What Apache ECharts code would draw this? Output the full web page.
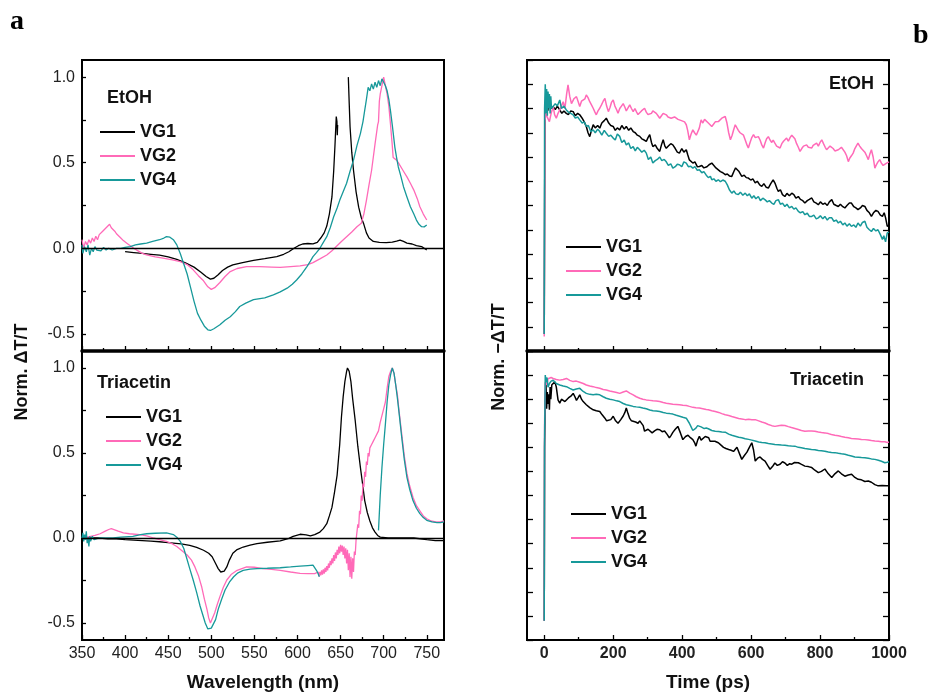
<!DOCTYPE html>
<html>
<head>
<meta charset="utf-8">
<script src="https://cdn.jsdelivr.net/npm/echarts@6.0.0/dist/echarts.min.js"></script>
<style>
html,body{margin:0;padding:0;background:#fff;}
#chart{width:932px;height:695px;}
</style>
</head>
<body>
<div id="chart"></div>
<script>
// ---------- DATA ----------
const seriesNames = ['VG1', 'VG2', 'VG4'];
const solventLabels = ['EtOH', 'Triacetin'];
const wavelengthLabels = [350, 400, 450, 500, 550, 600, 650, 700, 750];
const normLabels = [-0.5, 0.0, 0.5, 1.0];
const timeLabels = [0, 200, 400, 600, 800, 1000];

// Panel a, EtOH (wavelength nm, norm dT/T)
const etohSpecVG1 = [[400,-0.02],[410,-0.025],[420,-0.03],[430,-0.035],[440,-0.04],[450,-0.05],[460,-0.065],[470,-0.085],[480,-0.11],[488,-0.14],[494,-0.165],[499,-0.18],[503,-0.175],[508,-0.155],[513,-0.13],[519,-0.11],[525,-0.097],[535,-0.085],[549,-0.07],[562,-0.06],[576,-0.049],[584,-0.035],[590,-0.02],[596,0.0],[601,0.015],[606,0.025],[612,0.028],[618,0.026],[623,0.035],[627,0.06],[631,0.09],[634,0.13],[637,0.2],[640,0.3],[642,0.45],[643.5,0.6],[645,0.77],[645.8,0.74],[646.2,0.66],[646.6,0.72],[652,null],[659,1.0],[660,0.85],[661,0.71],[663,0.56],[665,0.456],[668,0.33],[671,0.24],[674,0.18],[677,0.14],[680,0.09],[683,0.06],[688,0.04],[695,0.035],[703,0.033],[710,0.036],[715,0.042],[719,0.048],[723,0.04],[727,0.03],[733,0.025],[738,0.015],[744,0.01],[747,0.0],[750,-0.01]];
const etohSpecVG2 = [[350,0.05],[352,0.0],[354,0.04],[356,0.02],[358,0.05],[360,0.03],[362,0.06],[364,0.04],[366,0.07],[368,0.05],[370,0.08],[372,0.07],[374,0.1],[376,0.09],[378,0.12],[380,0.11],[382,0.14],[384,0.12],[386,0.11],[388,0.1],[390,0.085],[392,0.075],[395,0.06],[398,0.045],[402,0.03],[406,0.015],[410,0.0],[415,-0.015],[420,-0.03],[425,-0.039],[435,-0.05],[444,-0.058],[455,-0.068],[464,-0.078],[472,-0.095],[479,-0.126],[485,-0.16],[491,-0.19],[496,-0.225],[500,-0.24],[504,-0.23],[510,-0.2],[516,-0.165],[522,-0.136],[530,-0.118],[541,-0.107],[556,-0.107],[570,-0.11],[580,-0.112],[592,-0.107],[603,-0.103],[612,-0.095],[618,-0.084],[626,-0.062],[634,-0.039],[640,-0.015],[645,0.01],[651,0.04],[657,0.068],[663,0.095],[669,0.126],[674,0.146],[677,0.2],[680,0.28],[683,0.37],[686,0.456],[690,0.61],[693,0.72],[694,0.74],[695,0.86],[696,0.9],[698,0.95],[700,1.0],[702,0.95],[704,0.9],[706,0.83],[708,0.72],[710,0.6],[711,0.53],[713,0.54],[715,0.515],[717,0.5],[719,0.495],[723,0.45],[727,0.417],[731,0.38],[735,0.34],[739,0.29],[742,0.243],[746,0.2],[750,0.165]];
const etohSpecVG4 = [[350,0.02],[351,-0.03],[353,0.01],[355,-0.02],[357,0.02],[359,-0.04],[361,0.0],[363,-0.02],[365,0.01],[367,-0.01],[369,0.0],[372,-0.015],[375,0.005],[378,-0.01],[381,0.0],[385,-0.01],[390,0.0],[395,0.0],[400,0.005],[406,0.01],[412,0.02],[418,0.025],[425,0.03],[432,0.04],[440,0.05],[445,0.06],[448,0.068],[452,0.065],[456,0.05],[460,0.02],[464,-0.03],[468,-0.09],[472,-0.15],[476,-0.23],[480,-0.31],[484,-0.38],[488,-0.42],[492,-0.455],[496,-0.476],[499,-0.48],[503,-0.47],[510,-0.447],[516,-0.42],[522,-0.4],[528,-0.37],[533,-0.34],[540,-0.32],[549,-0.3],[562,-0.29],[572,-0.272],[580,-0.255],[588,-0.233],[594,-0.21],[599,-0.185],[605,-0.15],[611,-0.107],[615,-0.075],[618,-0.049],[622,-0.025],[626,0.0],[630,0.035],[634,0.068],[638,0.12],[642,0.184],[646,0.235],[649,0.28],[653,0.33],[657,0.38],[661,0.45],[665,0.515],[669,0.6],[673,0.67],[676,0.74],[678,0.806],[680,0.87],[682,0.94],[684,0.92],[686,0.96],[688,0.93],[690,0.97],[692,0.94],[694,0.98],[696,0.95],[698,0.99],[700,0.97],[702,0.95],[704,0.92],[706,0.87],[708,0.8],[710,0.72],[713,0.59],[715,0.53],[717,0.475],[720,0.42],[723,0.36],[727,0.3],[731,0.243],[735,0.2],[738,0.165],[741,0.14],[744,0.126],[747,0.125],[750,0.136]];

// Panel a, Triacetin
const triSpecVG1 = [[350,0.0],[360,0.0],[370,0.0],[380,-0.005],[390,-0.005],[400,-0.01],[410,-0.012],[420,-0.015],[430,-0.018],[440,-0.022],[450,-0.027],[456,-0.03],[465,-0.035],[475,-0.043],[483,-0.055],[491,-0.072],[497,-0.09],[501,-0.11],[505,-0.15],[508,-0.18],[511,-0.2],[513,-0.205],[515,-0.195],[518,-0.17],[521,-0.13],[525,-0.09],[530,-0.068],[537,-0.053],[545,-0.042],[553,-0.033],[565,-0.025],[580,-0.017],[590,-0.002],[595,0.01],[603,0.022],[610,0.018],[615,0.012],[620,0.02],[626,0.035],[630,0.055],[634,0.084],[637,0.13],[640,0.18],[643,0.27],[646,0.37],[649,0.55],[651,0.71],[653,0.83],[655,0.92],[657,0.98],[658,1.0],[660,0.98],[662,0.92],[664,0.82],[667,0.69],[670,0.54],[673,0.415],[676,0.3],[678,0.22],[681,0.15],[684,0.1],[687,0.06],[690,0.035],[693,0.015],[696,0.005],[705,0.0],[720,0.0],[735,0.0],[750,-0.01],[760,-0.015],[770,-0.015]];
const triSpecVG2 = [[350,0.0],[355,0.005],[360,0.01],[365,0.015],[371,0.025],[377,0.04],[381,0.05],[384,0.055],[388,0.048],[392,0.04],[398,0.03],[405,0.025],[417,0.02],[425,0.012],[433,0.0],[440,-0.01],[448,-0.02],[455,-0.035],[460,-0.05],[466,-0.075],[472,-0.1],[477,-0.13],[481,-0.17],[485,-0.22],[489,-0.29],[492,-0.36],[495,-0.42],[497,-0.47],[499,-0.5],[501,-0.49],[504,-0.44],[507,-0.39],[510,-0.345],[514,-0.29],[518,-0.247],[523,-0.215],[530,-0.19],[541,-0.17],[550,-0.172],[560,-0.18],[570,-0.185],[580,-0.19],[592,-0.2],[603,-0.208],[612,-0.21],[620,-0.21],[624,-0.2],[625,-0.225],[626,-0.2],[627,-0.22],[628,-0.19],[629,-0.215],[630,-0.185],[631,-0.21],[632,-0.175],[633,-0.2],[634,-0.165],[635,-0.19],[636,-0.15],[637,-0.175],[638,-0.135],[639,-0.16],[640,-0.12],[641,-0.15],[642,-0.1],[643,-0.135],[644,-0.085],[645,-0.12],[646,-0.07],[647,-0.1],[648,-0.05],[649,-0.09],[650,-0.04],[651,-0.08],[652,-0.045],[653,-0.1],[654,-0.05],[655,-0.12],[656,-0.06],[657,-0.15],[658,-0.07],[659,-0.19],[660,-0.09],[661,-0.23],[662,-0.11],[663,-0.24],[664,-0.12],[665,-0.2],[666,-0.08],[667,-0.1],[668,-0.01],[669,0.0],[670,0.08],[671,0.06],[672,0.16],[673,0.14],[674,0.25],[675,0.22],[676,0.32],[677,0.3],[678,0.39],[679,0.36],[680,0.45],[681,0.43],[682,0.5],[683,0.48],[684,0.53],[686,0.55],[688,0.57],[690,0.59],[692,0.6],[694,0.63],[696,0.68],[698,0.72],[700,0.76],[702,0.8],[704,0.88],[706,0.95],[708,0.98],[710,1.0],[712,0.97],[714,0.9],[716,0.84],[718,0.74],[721,0.61],[724,0.48],[727,0.38],[730,0.31],[734,0.24],[738,0.19],[742,0.16],[746,0.13],[750,0.113],[755,0.1],[762,0.094],[766,0.095],[770,0.1]];
const triSpecVG4 = [[350,0.0],[351,0.03],[352,-0.02],[353,0.02],[354,-0.01],[355,0.04],[356,-0.03],[357,0.0],[358,-0.05],[359,0.01],[360,-0.02],[362,0.01],[364,-0.01],[366,0.0],[370,0.0],[378,0.0],[386,0.0],[395,0.005],[409,0.01],[418,0.02],[425,0.025],[435,0.028],[448,0.03],[456,0.02],[460,0.005],[464,-0.02],[468,-0.06],[471,-0.11],[475,-0.18],[479,-0.247],[483,-0.32],[487,-0.4],[490,-0.45],[493,-0.5],[496,-0.535],[498,-0.54],[500,-0.53],[502,-0.52],[505,-0.48],[508,-0.42],[512,-0.36],[516,-0.306],[521,-0.26],[526,-0.228],[531,-0.205],[537,-0.19],[545,-0.183],[553,-0.18],[565,-0.178],[580,-0.175],[592,-0.17],[603,-0.165],[612,-0.162],[618,-0.16],[620,-0.17],[622,-0.19],[624,-0.21],[625.4,-0.228],[640,null],[694,0.045],[696,0.25],[698,0.415],[700,0.55],[702,0.67],[704,0.8],[706,0.9],[708,0.96],[710,1.0],[712,0.97],[714,0.9],[716,0.82],[718,0.73],[721,0.59],[724,0.46],[727,0.357],[730,0.29],[734,0.22],[738,0.175],[742,0.143],[746,0.12],[750,0.104],[756,0.095],[762,0.09],[766,0.09],[770,0.095]];

// Panel b, EtOH (time ps, norm -dT/T)
const etohKinVG1 = [[0,-0.03],[2,0.88],[6,0.91],[10,0.89],[15,0.92],[20,0.9],[26,0.908],[32,0.895],[38,0.91],[45,0.894],[51,0.88],[57,0.89],[64,0.88],[70,0.875],[77,0.89],[84,0.887],[90,0.87],[97,0.88],[103,0.874],[110,0.86],[116,0.845],[122,0.826],[127,0.8],[132,0.784],[137,0.81],[142,0.833],[148,0.82],[155,0.83],[161,0.819],[167,0.84],[174,0.85],[180,0.86],[187,0.84],[193,0.83],[200,0.826],[206,0.81],[212,0.82],[219,0.812],[225,0.83],[232,0.815],[238,0.826],[245,0.81],[251,0.82],[258,0.805],[264,0.8],[270,0.79],[277,0.785],[283,0.775],[290,0.77],[296,0.764],[301,0.78],[306,0.792],[311,0.76],[315,0.743],[322,0.75],[328,0.735],[335,0.723],[340,0.75],[345,0.771],[350,0.745],[354,0.736],[360,0.745],[367,0.755],[373,0.75],[380,0.735],[386,0.72],[392,0.716],[399,0.735],[405,0.72],[412,0.73],[416,0.71],[421,0.688],[426,0.695],[431,0.675],[437,0.68],[444,0.66],[450,0.661],[457,0.665],[463,0.655],[467,0.654],[472,0.66],[478,0.668],[486,0.675],[492,0.665],[498,0.655],[505,0.647],[511,0.64],[518,0.635],[525,0.627],[531,0.63],[537,0.622],[544,0.62],[550,0.64],[555,0.655],[559,0.661],[565,0.64],[573,0.62],[580,0.625],[586,0.615],[592,0.613],[599,0.605],[605,0.61],[612,0.593],[618,0.6],[625,0.585],[631,0.579],[637,0.59],[644,0.575],[650,0.572],[657,0.59],[664,0.606],[670,0.59],[675,0.57],[679,0.558],[685,0.565],[691,0.545],[698,0.537],[704,0.55],[711,0.54],[718,0.551],[724,0.545],[730,0.53],[737,0.537],[743,0.525],[750,0.52],[756,0.51],[763,0.52],[769,0.525],[776,0.531],[782,0.515],[789,0.51],[795,0.503],[801,0.515],[808,0.505],[814,0.51],[821,0.5],[827,0.515],[834,0.524],[840,0.505],[847,0.5],[853,0.496],[859,0.505],[866,0.495],[872,0.49],[878,0.5],[885,0.51],[891,0.51],[898,0.495],[904,0.49],[910,0.483],[917,0.49],[923,0.5],[930,0.496],[936,0.48],[943,0.47],[949,0.455],[955,0.47],[962,0.48],[968,0.476],[975,0.46],[981,0.455],[986,0.47],[990,0.45],[995,0.414],[1000,0.42]];
const etohKinVG2 = [[0,-0.04],[2,0.85],[5,0.88],[10,0.86],[15,0.846],[20,0.88],[26,0.908],[30,0.875],[35,0.86],[40,0.88],[45,0.894],[50,0.91],[55,0.928],[60,0.9],[65,0.96],[69,0.997],[74,0.95],[79,0.92],[86,0.94],[93.5,0.949],[98,0.93],[103,0.908],[108,0.93],[113,0.925],[118,0.94],[122,0.956],[127,0.945],[132,0.928],[137,0.915],[142,0.901],[147,0.885],[151,0.874],[156,0.89],[161,0.901],[166,0.915],[171,0.93],[176,0.942],[181,0.91],[186,0.887],[191,0.905],[195,0.925],[200,0.935],[205,0.91],[210,0.895],[214,0.88],[219,0.9],[224,0.91],[229,0.92],[234,0.905],[238,0.89],[243,0.894],[248,0.915],[253,0.9],[258,0.887],[263,0.9],[268,0.885],[272,0.875],[277,0.874],[282,0.89],[286,0.895],[291,0.901],[296,0.885],[301,0.875],[306,0.867],[311,0.88],[315,0.89],[320,0.894],[325,0.88],[330,0.87],[335,0.86],[340,0.87],[345,0.88],[350,0.875],[354,0.874],[359,0.865],[364,0.87],[368,0.86],[373,0.853],[378,0.865],[383,0.87],[388,0.855],[392.5,0.86],[398,0.85],[403,0.855],[407,0.845],[412,0.833],[416,0.81],[421,0.771],[426,0.795],[431,0.812],[436,0.8],[441,0.79],[445,0.798],[450,0.82],[455,0.853],[460,0.84],[465,0.855],[470,0.853],[476,0.84],[481,0.835],[486,0.826],[491,0.835],[496,0.845],[501,0.838],[505,0.846],[510,0.85],[515,0.86],[520,0.855],[525,0.867],[530,0.84],[535,0.8],[540,0.771],[545,0.79],[549,0.81],[554,0.833],[559,0.82],[563,0.81],[568,0.8],[573,0.805],[578,0.79],[583,0.77],[588,0.75],[592,0.737],[597,0.76],[602,0.78],[607,0.792],[612,0.78],[616,0.775],[621,0.784],[626,0.77],[631,0.75],[636,0.737],[641,0.76],[645,0.775],[650,0.784],[655,0.77],[660,0.76],[664,0.77],[669,0.757],[674,0.745],[679,0.74],[684,0.737],[689,0.755],[694,0.765],[698,0.77],[703,0.778],[708,0.765],[713,0.78],[718,0.79],[722,0.798],[727,0.775],[732,0.755],[737,0.74],[742,0.723],[747,0.735],[752,0.745],[756,0.75],[761,0.75],[766,0.74],[771,0.735],[776,0.737],[780,0.748],[785,0.755],[790,0.757],[795,0.745],[800,0.76],[805,0.771],[810,0.755],[815,0.74],[819,0.73],[824,0.735],[829,0.745],[834,0.743],[838,0.735],[843,0.725],[848,0.73],[853,0.73],[858,0.735],[862,0.74],[867,0.737],[872,0.72],[877,0.705],[882,0.681],[886,0.695],[891,0.705],[896,0.716],[901,0.735],[905,0.745],[910,0.757],[915,0.745],[920,0.735],[925,0.73],[930,0.72],[935,0.705],[940,0.689],[944,0.71],[949,0.73],[954,0.7],[959,0.654],[964,0.67],[968,0.68],[973,0.689],[978,0.675],[983,0.665],[988,0.67],[993,0.675],[1000,0.68]];
const etohKinVG4 = [[0,-0.03],[1,0.9],[3,1.0],[5,0.88],[7,0.98],[9,0.87],[11,0.97],[13,0.9],[15,0.96],[17,0.88],[19,0.95],[21,0.9],[26,0.894],[32,0.92],[38,0.91],[45,0.935],[50,0.9],[57,0.91],[64,0.894],[70,0.885],[77,0.88],[84,0.874],[90,0.86],[97,0.865],[103,0.853],[110,0.84],[116,0.845],[122,0.826],[128,0.83],[135,0.805],[142,0.812],[148,0.8],[155,0.815],[161,0.805],[167,0.79],[174,0.81],[180,0.798],[187,0.785],[193,0.79],[200,0.778],[206,0.77],[212,0.795],[219,0.785],[225,0.76],[232,0.77],[238,0.75],[245,0.758],[251,0.735],[258,0.743],[264,0.725],[270,0.74],[277,0.73],[283,0.72],[290,0.728],[296,0.716],[302,0.69],[309,0.7],[315,0.675],[322,0.685],[328,0.69],[335,0.7],[341,0.685],[348,0.69],[354,0.68],[360,0.665],[367,0.672],[373,0.654],[380,0.66],[386,0.67],[392,0.668],[399,0.66],[405,0.68],[412,0.675],[418,0.66],[425,0.662],[431,0.654],[437,0.66],[444,0.645],[450,0.647],[457,0.635],[463,0.64],[470,0.625],[476,0.615],[482,0.62],[486,0.606],[492,0.61],[498,0.6],[505,0.606],[511,0.598],[518,0.605],[525,0.6],[531,0.585],[537,0.565],[544,0.551],[550,0.56],[556,0.548],[563,0.545],[569,0.555],[576,0.542],[583,0.551],[589,0.54],[595,0.548],[602,0.53],[608,0.54],[614,0.528],[621,0.537],[627,0.52],[634,0.53],[640,0.524],[647,0.515],[653,0.52],[660,0.51],[666,0.505],[672,0.52],[679,0.524],[685,0.505],[691,0.51],[698,0.496],[704,0.505],[711,0.49],[718,0.496],[724,0.485],[730,0.49],[737,0.476],[743,0.47],[750,0.475],[756,0.462],[763,0.468],[769,0.455],[776,0.455],[782,0.46],[789,0.445],[795,0.449],[801,0.458],[808,0.445],[814,0.455],[821,0.44],[827,0.45],[834,0.449],[840,0.435],[847,0.44],[853,0.428],[859,0.435],[866,0.42],[872,0.428],[878,0.415],[885,0.425],[891,0.414],[898,0.42],[904,0.41],[910,0.428],[917,0.415],[923,0.43],[930,0.435],[936,0.41],[943,0.4],[949,0.393],[955,0.405],[962,0.395],[968,0.4],[975,0.38],[981,0.36],[985,0.375],[990,0.35],[995,0.387],[1000,0.39]];

// Panel b, Triacetin
const triKinVG1 = [[0,-0.02],[1,0.7],[3,0.9],[5,0.96],[7,0.86],[9,0.93],[11,0.88],[13,0.92],[15,0.856],[17,0.95],[19,0.9],[22,0.96],[26,0.965],[31,0.972],[35,0.95],[40,0.897],[45,0.883],[50,0.9],[55,0.895],[60,0.89],[64.5,0.897],[70,0.905],[74,0.904],[79,0.915],[84,0.924],[89,0.91],[93.5,0.895],[98,0.905],[103,0.918],[108,0.9],[113,0.89],[118,0.885],[122,0.877],[127,0.87],[132,0.865],[137,0.86],[142,0.856],[151,0.852],[161,0.849],[168,0.835],[176,0.821],[181,0.81],[186,0.808],[193,0.815],[200,0.829],[207,0.81],[214,0.8],[222,0.815],[229,0.83],[234,0.845],[238,0.863],[243,0.84],[248,0.82],[253,0.81],[258,0.815],[265,0.805],[272,0.8],[277,0.81],[282,0.815],[287,0.79],[291,0.767],[296,0.765],[301,0.775],[306,0.773],[313,0.76],[320,0.768],[327,0.775],[335,0.773],[342,0.765],[349,0.768],[356,0.755],[363,0.739],[368,0.75],[373,0.762],[380,0.775],[387.5,0.787],[395,0.76],[402,0.732],[410,0.745],[417,0.75],[424,0.74],[431,0.732],[436,0.72],[440,0.705],[445,0.73],[450,0.746],[455,0.73],[460,0.725],[467,0.745],[472,0.752],[477,0.74],[481,0.725],[486,0.732],[495,0.725],[505,0.719],[512,0.71],[520,0.7],[527,0.695],[535,0.691],[542,0.688],[549,0.683],[554,0.69],[559,0.7],[566,0.675],[573,0.65],[580,0.665],[588,0.68],[595,0.7],[602,0.719],[607,0.69],[612,0.643],[619,0.655],[626,0.66],[633,0.65],[640.5,0.643],[648,0.625],[655,0.609],[662,0.62],[669,0.635],[676,0.625],[684,0.63],[691,0.64],[698,0.635],[705,0.625],[712,0.632],[718,0.63],[726,0.637],[737,0.636],[745,0.63],[756,0.622],[766,0.62],[776,0.616],[785,0.605],[795,0.595],[804,0.6],[814,0.61],[824,0.59],[834,0.575],[843,0.59],[853,0.602],[862,0.59],[872,0.58],[882,0.585],[891.5,0.588],[901,0.575],[910.5,0.567],[920,0.565],[930,0.558],[940,0.56],[949,0.555],[959,0.545],[968.5,0.54],[980,0.542],[993,0.54],[1000,0.54]];
const triKinVG2 = [[0,-0.02],[1,0.8],[3,0.97],[5,0.973],[8,0.96],[11,0.985],[15,0.993],[20,0.99],[26,0.986],[35,0.982],[45,0.979],[55,0.982],[64.5,0.986],[74,0.978],[84,0.973],[93,0.975],[103,0.97],[113,0.965],[122,0.959],[132,0.955],[142,0.952],[151,0.948],[161,0.945],[171,0.94],[180,0.938],[190,0.934],[200,0.931],[210,0.928],[219,0.924],[229,0.93],[238,0.934],[248,0.925],[258,0.918],[267,0.91],[277,0.904],[286,0.9],[296,0.897],[306,0.895],[315.5,0.893],[325,0.892],[335,0.89],[345,0.886],[354,0.883],[364,0.881],[373,0.879],[383,0.878],[392.5,0.877],[402,0.875],[412,0.874],[421,0.87],[431,0.866],[440,0.864],[450,0.863],[460,0.86],[470,0.857],[476,0.856],[486,0.852],[496,0.849],[506,0.845],[515,0.84],[525,0.835],[535,0.832],[544,0.828],[554,0.824],[564,0.82],[573,0.818],[583,0.815],[593,0.817],[602,0.815],[612,0.815],[622,0.81],[631,0.805],[640.5,0.801],[650,0.795],[660,0.79],[669,0.787],[679,0.79],[688,0.792],[698,0.791],[708,0.786],[717,0.782],[727,0.778],[737,0.774],[746,0.77],[756,0.767],[766,0.768],[775,0.768],[785,0.767],[795,0.764],[804,0.762],[814,0.76],[824,0.757],[833,0.753],[843,0.75],[853,0.748],[862,0.745],[872,0.742],[882,0.74],[891,0.737],[901,0.736],[911,0.735],[920,0.733],[930,0.732],[940,0.73],[949,0.728],[959,0.726],[969,0.725],[978,0.723],[988,0.723],[995,0.72],[1000,0.722]];
const triKinVG4 = [[0,-0.02],[1,0.75],[3,1.0],[5,0.97],[8,0.99],[11,0.95],[15,0.965],[20,0.975],[26,0.979],[35,0.965],[45,0.959],[55,0.955],[64.5,0.952],[74,0.945],[84,0.938],[93,0.942],[103,0.945],[113,0.932],[122,0.924],[132,0.92],[142,0.918],[151,0.92],[161,0.918],[171,0.91],[180,0.904],[190,0.9],[200,0.897],[210,0.893],[219,0.89],[229,0.882],[238,0.877],[248,0.874],[258,0.87],[267,0.868],[277,0.866],[286,0.863],[296,0.86],[306,0.855],[315.5,0.852],[325,0.851],[335,0.849],[345,0.845],[354,0.842],[364,0.84],[373,0.838],[383,0.833],[392.5,0.829],[402,0.825],[412,0.821],[416,0.815],[421,0.8],[426,0.785],[431,0.77],[436,0.772],[440,0.78],[445,0.79],[450,0.794],[455,0.785],[460,0.778],[464,0.778],[470,0.78],[476,0.777],[486,0.77],[496,0.767],[506,0.766],[515,0.764],[525,0.763],[535,0.755],[544,0.75],[554,0.746],[564,0.742],[573,0.74],[583,0.736],[593,0.733],[602,0.73],[612,0.726],[622,0.722],[631,0.72],[640.5,0.719],[650,0.716],[660,0.714],[669,0.712],[679,0.711],[688,0.71],[698,0.709],[708,0.707],[717,0.706],[727,0.705],[737,0.7],[746,0.698],[756,0.695],[766,0.693],[775,0.691],[785,0.69],[795,0.687],[804,0.686],[814,0.684],[824,0.681],[833,0.679],[843,0.678],[853,0.675],[862,0.673],[872,0.671],[882,0.667],[891,0.664],[901,0.66],[911,0.659],[920,0.658],[930,0.657],[940,0.655],[949,0.652],[959,0.65],[969,0.646],[978,0.642],[988,0.636],[995,0.638],[1000,0.64]];

// ---------- STYLE ----------
const COLORS = ['#000000', '#ff6ab8', '#17999a'];
const SANS = '"Liberation Sans", Arial, sans-serif';
const SERIF = '"Liberation Serif", "Times New Roman", serif';

function range(a, b, step) { const r = []; for (let v = a; v <= b + 1e-9; v += step) r.push(+v.toFixed(4)); return r; }

const grids = [
  { left: 82, top: 60, width: 362, height: 291 },
  { left: 82, top: 351, width: 362, height: 289 },
  { left: 527, top: 60, width: 362, height: 291 },
  { left: 527, top: 351, width: 362, height: 289 }
].map(g => Object.assign(g, { show: true, borderColor: '#000', borderWidth: 2, backgroundColor: 'transparent', containLabel: false }));

function xMain(gi, min, max, majors, showLabels, thickLine) {
  return {
    type: 'value', gridIndex: gi, min: min, max: max, position: 'bottom',
    splitLine: { show: false },
    axisLine: { show: true, onZero: false, lineStyle: { color: '#000', width: thickLine ? 3.5 : 2 } },
    axisTick: { show: true, inside: true, length: 5, customValues: majors, lineStyle: { color: '#000', width: 1.3 } },
    axisLabel: { show: showLabels, customValues: majors, margin: 6, fontFamily: SANS, fontSize: 16, color: '#222',
      fontWeight: gi >= 2 ? 'bold' : 'normal', formatter: v => String(v) }
  };
}
function xMinor(gi, min, max, minors) {
  return {
    type: 'value', gridIndex: gi, min: min, max: max, position: 'bottom',
    splitLine: { show: false },
    axisLine: { show: false, onZero: false },
    axisTick: { show: true, inside: true, length: 3, customValues: minors, lineStyle: { color: '#000', width: 1.3 } },
    axisLabel: { show: false }
  };
}
const wlMinor = range(375, 750, 50);
const tMinor = range(100, 900, 200);

const xAxes = [
  xMain(0, 350, 770, wavelengthLabels, false, true), xMinor(0, 350, 770, wlMinor),
  xMain(1, 350, 770, wavelengthLabels, true, false), xMinor(1, 350, 770, wlMinor),
  xMain(2, -50, 1000, timeLabels, false, true), xMinor(2, -50, 1000, tMinor),
  xMain(3, -50, 1000, timeLabels, true, false), xMinor(3, -50, 1000, tMinor)
];

function yA(gi) {
  return {
    type: 'value', gridIndex: gi, min: -0.6, max: 1.1, position: 'left',
    splitLine: { show: false },
    axisLine: { show: true, onZero: false, lineStyle: { color: '#000', width: 2 } },
    axisTick: { show: true, inside: true, length: 4, customValues: range(-0.5, 1.0, 0.25), lineStyle: { color: '#000', width: 1.3 } },
    axisLabel: { show: true, customValues: normLabels, margin: 7, fontFamily: SANS, fontSize: 16, color: '#222',
      formatter: v => (+v).toFixed(1) }
  };
}
function yB(gi, pos) {
  return {
    type: 'value', gridIndex: gi, min: -0.1, max: 1.1, interval: 0.1, position: pos,
    splitLine: { show: false },
    axisLine: { show: true, onZero: false, lineStyle: { color: '#000', width: 2 } },
    axisTick: { show: true, inside: true, length: 6, lineStyle: { color: '#000', width: 1.3 } },
    axisLabel: { show: false }
  };
}
const yAxes = [yA(0), yA(1), yB(2, 'left'), yB(2, 'right'), yB(3, 'left'), yB(3, 'right')];

function mkSeries(name, data, xi, yi, withZero) {
  const c = COLORS[seriesNames.indexOf(name)];
  const s = {
    type: 'line', name: name, data: data, xAxisIndex: xi, yAxisIndex: yi,
    symbol: 'none', showSymbol: false, connectNulls: false, animation: false,
    lineStyle: { color: c, width: xi >= 4 ? 1.5 : 1.3 },
    itemStyle: { color: c }
  };
  if (withZero) {
    s.markLine = { silent: true, symbol: ['none', 'none'], label: { show: false },
      lineStyle: { color: '#000', width: 1.3, type: 'solid' }, data: [{ yAxis: 0 }] };
  }
  return s;
}

const series = [
  mkSeries('VG1', etohSpecVG1, 0, 0, true), mkSeries('VG2', etohSpecVG2, 0, 0), mkSeries('VG4', etohSpecVG4, 0, 0),
  mkSeries('VG1', triSpecVG1, 2, 1, true), mkSeries('VG2', triSpecVG2, 2, 1), mkSeries('VG4', triSpecVG4, 2, 1),
  mkSeries('VG1', etohKinVG1, 4, 2), mkSeries('VG2', etohKinVG2, 4, 2), mkSeries('VG4', etohKinVG4, 4, 2),
  mkSeries('VG1', triKinVG1, 6, 4), mkSeries('VG2', triKinVG2, 6, 4), mkSeries('VG4', triKinVG4, 6, 4)
];

function legend(left, top) {
  return {
    show: true, orient: 'vertical', left: left, top: top, padding: 0,
    icon: 'rect', itemWidth: 35, itemHeight: 2, itemGap: 4, selectedMode: false,
    textStyle: { fontFamily: SANS, fontSize: 18, fontWeight: 'bold', color: '#111', lineHeight: 20 },
    data: seriesNames
  };
}

function txt(text, x, y, opts) {
  return Object.assign({
    type: 'text', x: x, y: y, silent: true,
    style: Object.assign({ text: text, fill: '#111', font: 'bold 18px ' + SANS, textAlign: 'left', textVerticalAlign: 'middle' }, opts && opts.style || {})
  }, opts && opts.el || {});
}

const graphic = [
  txt('a', 10, 22, { style: { font: 'bold 28px ' + SERIF, fill: '#000' } }),
  txt('b', 913, 36, { style: { font: 'bold 28px ' + SERIF, fill: '#000' } }),
  txt(solventLabels[0], 107, 98),
  txt(solventLabels[1], 97, 383),
  txt(solventLabels[0], 874, 84, { style: { textAlign: 'right' } }),
  txt(solventLabels[1], 864, 380, { style: { textAlign: 'right' } }),
  txt('Wavelength (nm)', 263, 683, { style: { textAlign: 'center', font: 'bold 19px ' + SANS } }),
  txt('Time (ps)', 708, 683, { style: { textAlign: 'center', font: 'bold 19px ' + SANS } }),
  txt('Norm. ΔT/T', 22, 372, { style: { textAlign: 'center', font: 'bold 18px ' + SANS }, el: { rotation: Math.PI / 2 } }),
  txt('Norm. \u2212ΔT/T', 499, 357, { style: { textAlign: 'center', font: 'bold 18px ' + SANS }, el: { rotation: Math.PI / 2 } })
];

const chart = echarts.init(document.getElementById('chart'), null, { renderer: 'canvas' });
chart.setOption({
  animation: false,
  backgroundColor: '#fff',
  grid: grids,
  xAxis: xAxes,
  yAxis: yAxes,
  legend: [legend(100, 122), legend(106, 407), legend(566, 237), legend(571, 504)],
  graphic: graphic,
  series: series
});
</script>
</body>
</html>
